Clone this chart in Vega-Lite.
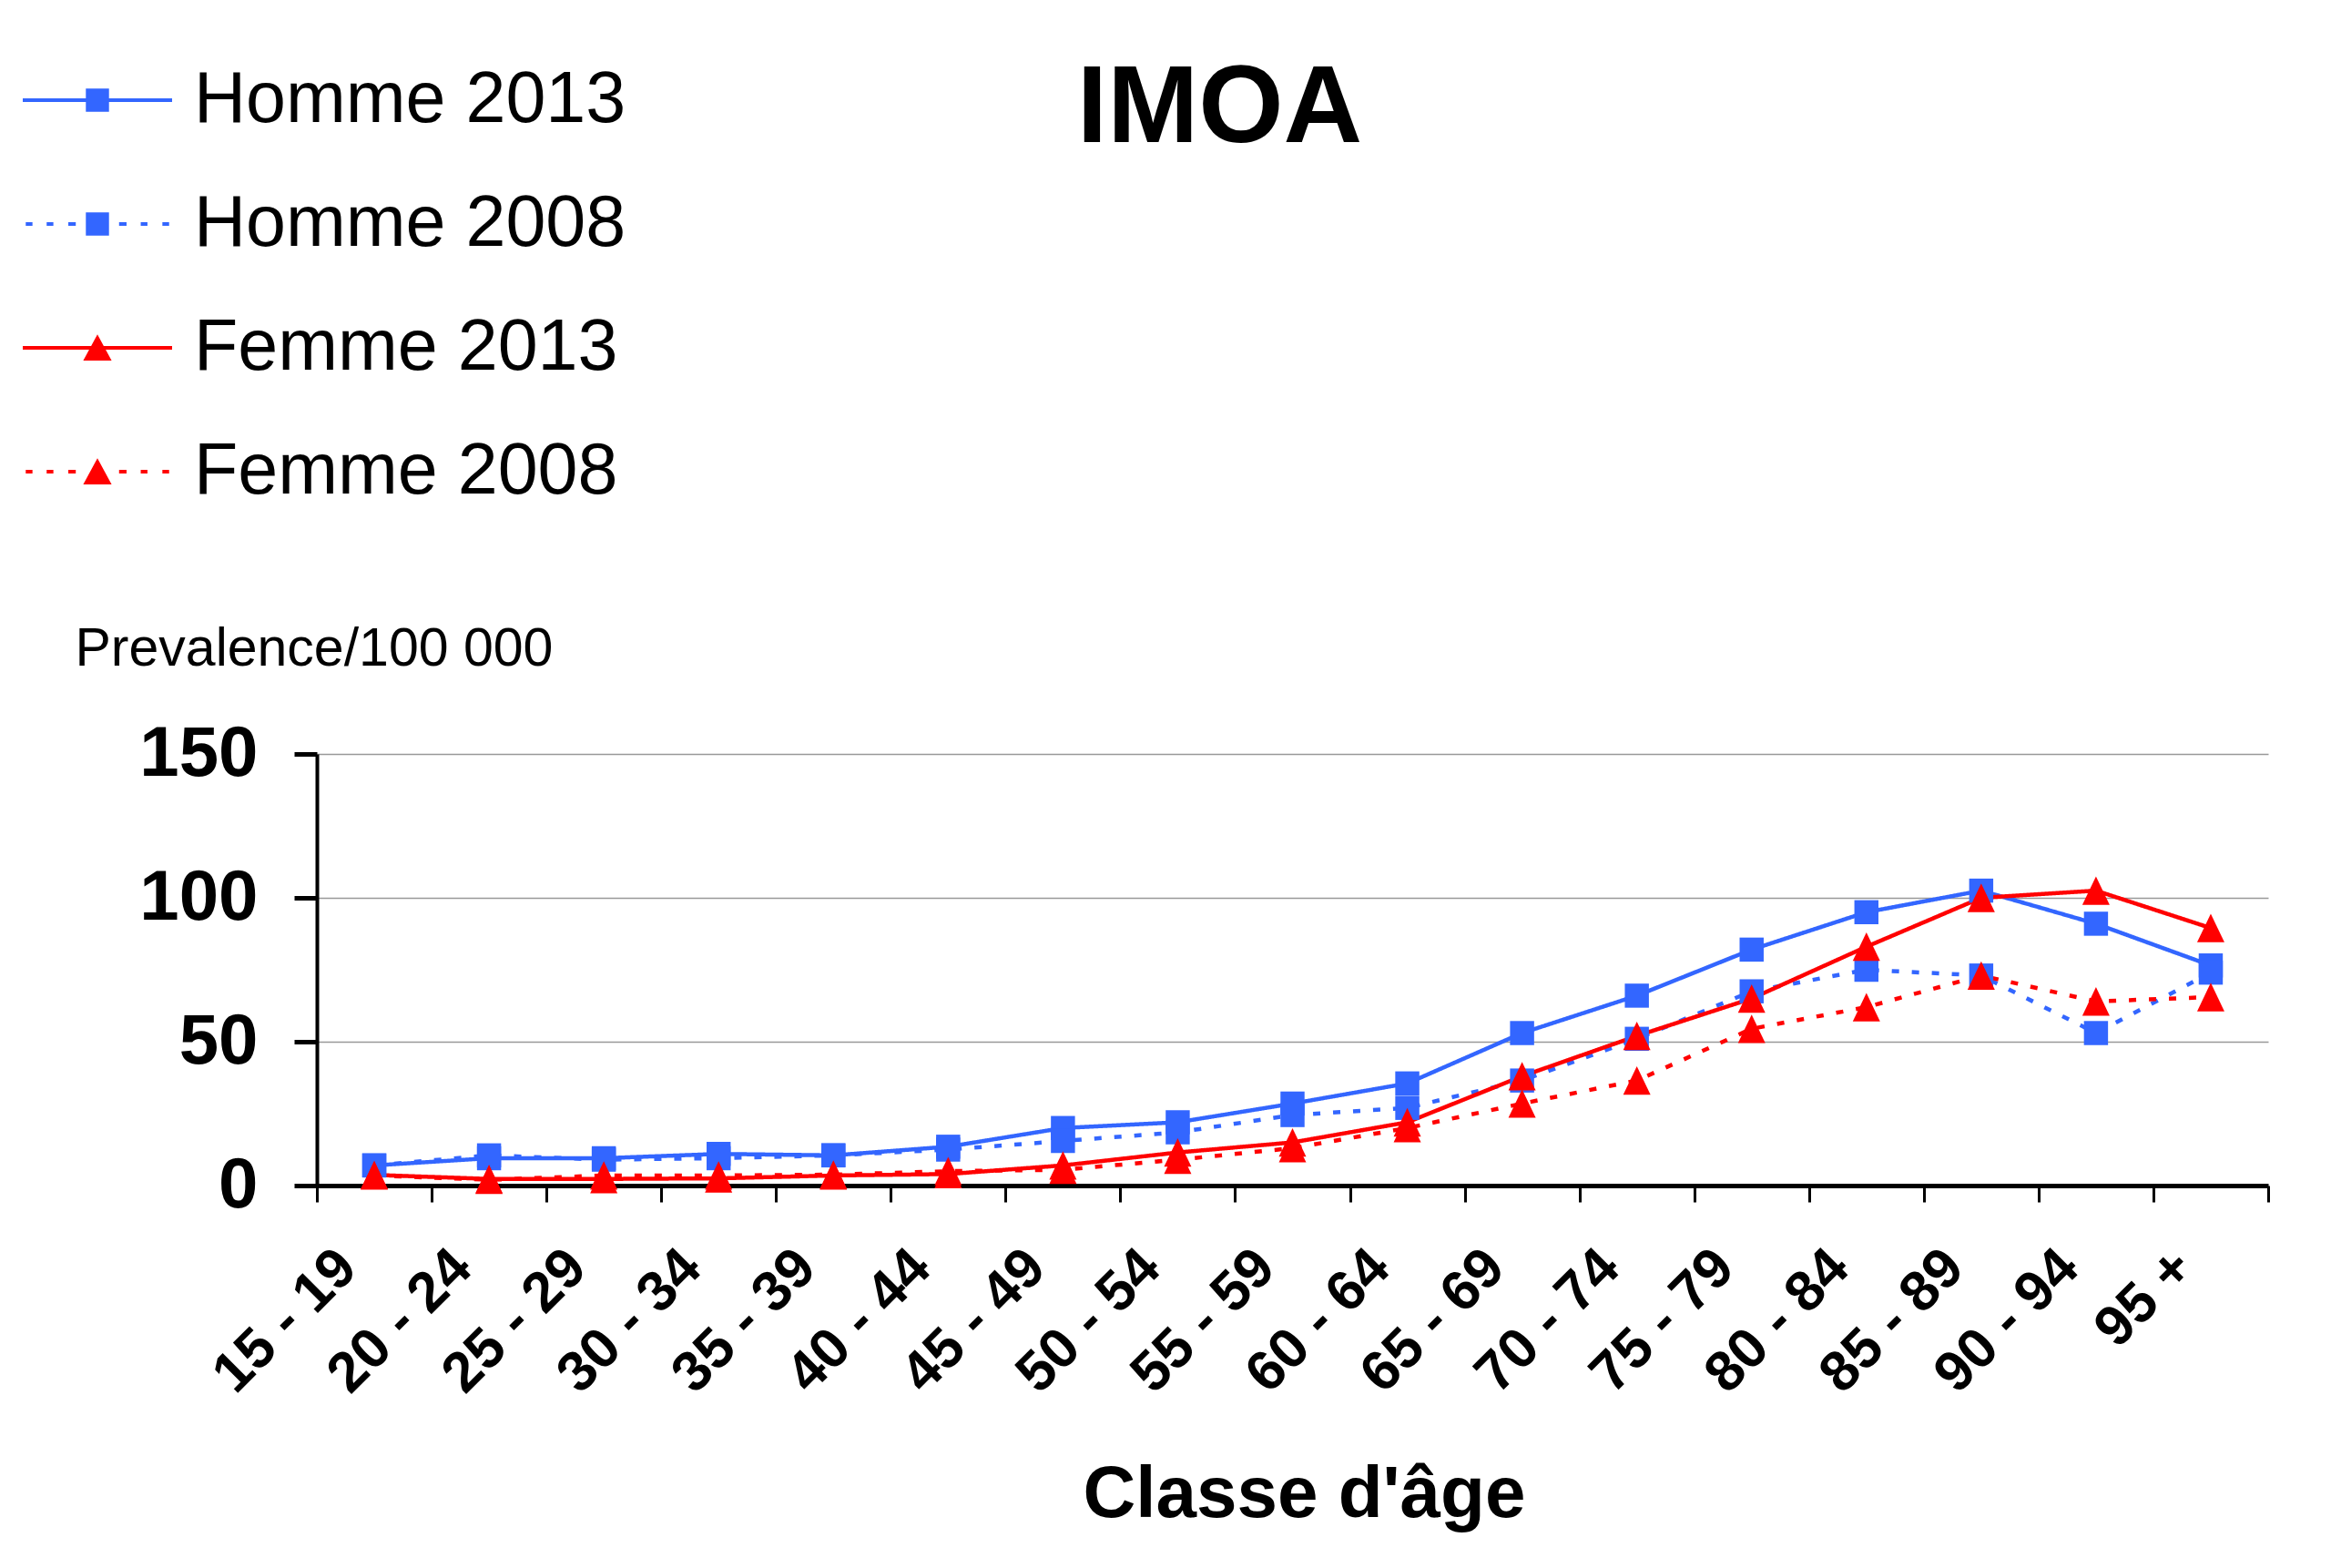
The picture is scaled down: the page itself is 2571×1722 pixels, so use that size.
{
  "$schema": "https://vega.github.io/schema/vega-lite/v6.json",
  "width": 2143,
  "height": 474,
  "autosize": {"type": "none"},
  "padding": {"left": 348, "top": 828, "right": 80, "bottom": 420},
  "background": "white",
  "config": {"view": {"stroke": null}, "font": "Liberation Sans"},
  "title": {"text": "IMOA", "fontSize": 120, "fontWeight": "bold", "font": "Liberation Sans", "anchor": "middle", "frame": "group", "dx": -80, "dy": 157, "color": "black"},
  "data": {"values": [
    {"age": "15 - 19", "Homme 2013": 7, "Homme 2008": 7, "Femme 2013": 3.7, "Femme 2008": 3.5},
    {"age": "20 - 24", "Homme 2013": 9.5, "Homme 2008": 10.5, "Femme 2013": 2.3, "Femme 2008": 2},
    {"age": "25 - 29", "Homme 2013": 9.5, "Homme 2008": 9, "Femme 2013": 2.3, "Femme 2008": 3.5},
    {"age": "30 - 34", "Homme 2013": 11, "Homme 2008": 9.5, "Femme 2013": 2.5, "Femme 2008": 3.5},
    {"age": "35 - 39", "Homme 2013": 10.5, "Homme 2008": 10.5, "Femme 2013": 3.5, "Femme 2008": 3.8},
    {"age": "40 - 44", "Homme 2013": 13.5, "Homme 2008": 12.5, "Femme 2013": 4, "Femme 2008": 5},
    {"age": "45 - 49", "Homme 2013": 20, "Homme 2008": 15.5, "Femme 2013": 7, "Femme 2008": 5.5},
    {"age": "50 - 54", "Homme 2013": 22, "Homme 2008": 18.5, "Femme 2013": 11.5, "Femme 2008": 9},
    {"age": "55 - 59", "Homme 2013": 28.5, "Homme 2008": 24.5, "Femme 2013": 15, "Femme 2008": 13},
    {"age": "60 - 64", "Homme 2013": 35.5, "Homme 2008": 27, "Femme 2013": 22, "Femme 2008": 20},
    {"age": "65 - 69", "Homme 2013": 53, "Homme 2008": 36.5, "Femme 2013": 38, "Femme 2008": 28.5},
    {"age": "70 - 74", "Homme 2013": 66, "Homme 2008": 51, "Femme 2013": 52, "Femme 2008": 36.5},
    {"age": "75 - 79", "Homme 2013": 82, "Homme 2008": 67.5, "Femme 2013": 65, "Femme 2008": 54.5},
    {"age": "80 - 84", "Homme 2013": 95, "Homme 2008": 75, "Femme 2013": 83, "Femme 2008": 62},
    {"age": "85 - 89", "Homme 2013": 102.5, "Homme 2008": 73, "Femme 2013": 100, "Femme 2008": 73},
    {"age": "90 - 94", "Homme 2013": 91, "Homme 2008": 53, "Femme 2013": 102.5, "Femme 2008": 64},
    {"age": "95 +", "Homme 2013": 76.5, "Homme 2008": 74, "Femme 2013": 89.5, "Femme 2008": 65.5}
  ]},
  "transform": [{"fold": ["Homme 2013", "Homme 2008", "Femme 2013", "Femme 2008"], "as": ["serie", "v"]}],
  "encoding": {
    "x": {
      "field": "age", "type": "nominal", "sort": null, "bandPosition": 0.5,
      "scale": {"type": "band", "paddingInner": 0, "paddingOuter": 0},
      "axis": {
        "tickBand": "extent", "labelAngle": -45, "labelAlign": "right", "labelBaseline": "middle",
        "labelFontSize": 62, "labelFontWeight": "bold", "labelColor": "black", "labelPadding": 62, "labelOffset": -30,
        "labelLimit": 1000, "labelOverlap": false,
        "tickSize": 18, "tickWidth": 3, "tickColor": "black",
        "domainColor": "black", "domainWidth": 5, "grid": false,
        "title": "Classe d'âge", "titleFontSize": 80, "titleFontWeight": "bold", "titleColor": "black",
        "titleX": 1084, "titleY": 363, "titleBaseline": "alphabetic", "titleAlign": "center"
      }
    },
    "y": {
      "field": "v", "type": "quantitative",
      "scale": {"domain": [0, 150], "nice": false, "zero": true},
      "axis": {
        "values": [0, 50, 100, 150], "labelFontSize": 78, "labelFontWeight": "bold", "labelColor": "black",
        "labelPadding": 40, "labelFlush": false, "tickSize": 25, "tickWidth": 5, "tickColor": "black",
        "domainColor": "black", "domainWidth": 4, "grid": true, "gridColor": "#999999", "gridWidth": 1.5,
        "title": "Prevalence/100 000", "titleAngle": 0, "titleAlign": "left", "titleBaseline": "alphabetic",
        "titleX": -266, "titleY": -98, "titleFontSize": 59, "titleFontWeight": "normal", "titleColor": "black"
      }
    },
    "color": {
      "field": "serie", "type": "nominal",
      "scale": {"domain": ["Homme 2013", "Homme 2008", "Femme 2013", "Femme 2008"], "range": ["#3366FF", "#3366FF", "#FF0000", "#FF0000"]},
      "legend": {
        "orient": "none", "legendX": -323, "legendY": -800, "direction": "vertical", "title": null,
        "labelFontSize": 79, "labelFont": "Liberation Sans", "labelColor": "black", "labelOffset": 24, "labelLimit": 2000,
        "symbolSize": 26896, "symbolStrokeWidth": 0, "rowPadding": 14, "padding": 0
      }
    }
  },
  "layer": [
    {
      "mark": {"type": "line", "strokeWidth": 4.5},
      "encoding": {
        "strokeDash": {
          "field": "serie", "type": "nominal", "legend": null,
          "scale": {"domain": ["Homme 2013", "Homme 2008", "Femme 2013", "Femme 2008"], "range": [[1, 0], [8, 14], [1, 0], [8, 14]]}
        }
      }
    },
    {
      "transform": [{"filter": "indexof(datum.serie, 'Homme') === 0"}],
      "mark": {"type": "point", "filled": true, "opacity": 1, "size": 700, "shape": "square"}
    },
    {
      "transform": [{"filter": "indexof(datum.serie, 'Femme') === 0"}],
      "mark": {"type": "point", "filled": true, "opacity": 1, "size": 680, "shape": "M0,-1.2L1.15,1.2L-1.15,1.2Z"}
    },
    {
      "transform": [{"filter": "false"}],
      "mark": {"type": "point", "filled": true, "opacity": 1},
      "encoding": {
        "shape": {
          "field": "serie", "type": "nominal", "legend": null,
          "scale": {"domain": ["Homme 2013", "Homme 2008", "Femme 2013", "Femme 2008"], "range": [
            "M-1,-0.025H1V0.025H-1Z M-0.155,-0.155H0.155V0.155H-0.155Z",
            "M-0.96,-0.025H-0.87V0.025H-0.96Z M-0.68,-0.025H-0.59V0.025H-0.68Z M-0.39,-0.025H-0.29V0.025H-0.39Z M0.29,-0.025H0.39V0.025H0.29Z M0.58,-0.025H0.67V0.025H0.58Z M0.87,-0.025H0.96V0.025H0.87Z M-0.155,-0.155H0.155V0.155H-0.155Z",
            "M-1,-0.025H1V0.025H-1Z M0,-0.18L0.19,0.17H-0.19Z",
            "M-0.96,-0.025H-0.87V0.025H-0.96Z M-0.68,-0.025H-0.59V0.025H-0.68Z M-0.39,-0.025H-0.29V0.025H-0.39Z M0.29,-0.025H0.39V0.025H0.29Z M0.58,-0.025H0.67V0.025H0.58Z M0.87,-0.025H0.96V0.025H0.87Z M0,-0.18L0.19,0.17H-0.19Z"
          ]}
        }
      }
    }
  ]
}
